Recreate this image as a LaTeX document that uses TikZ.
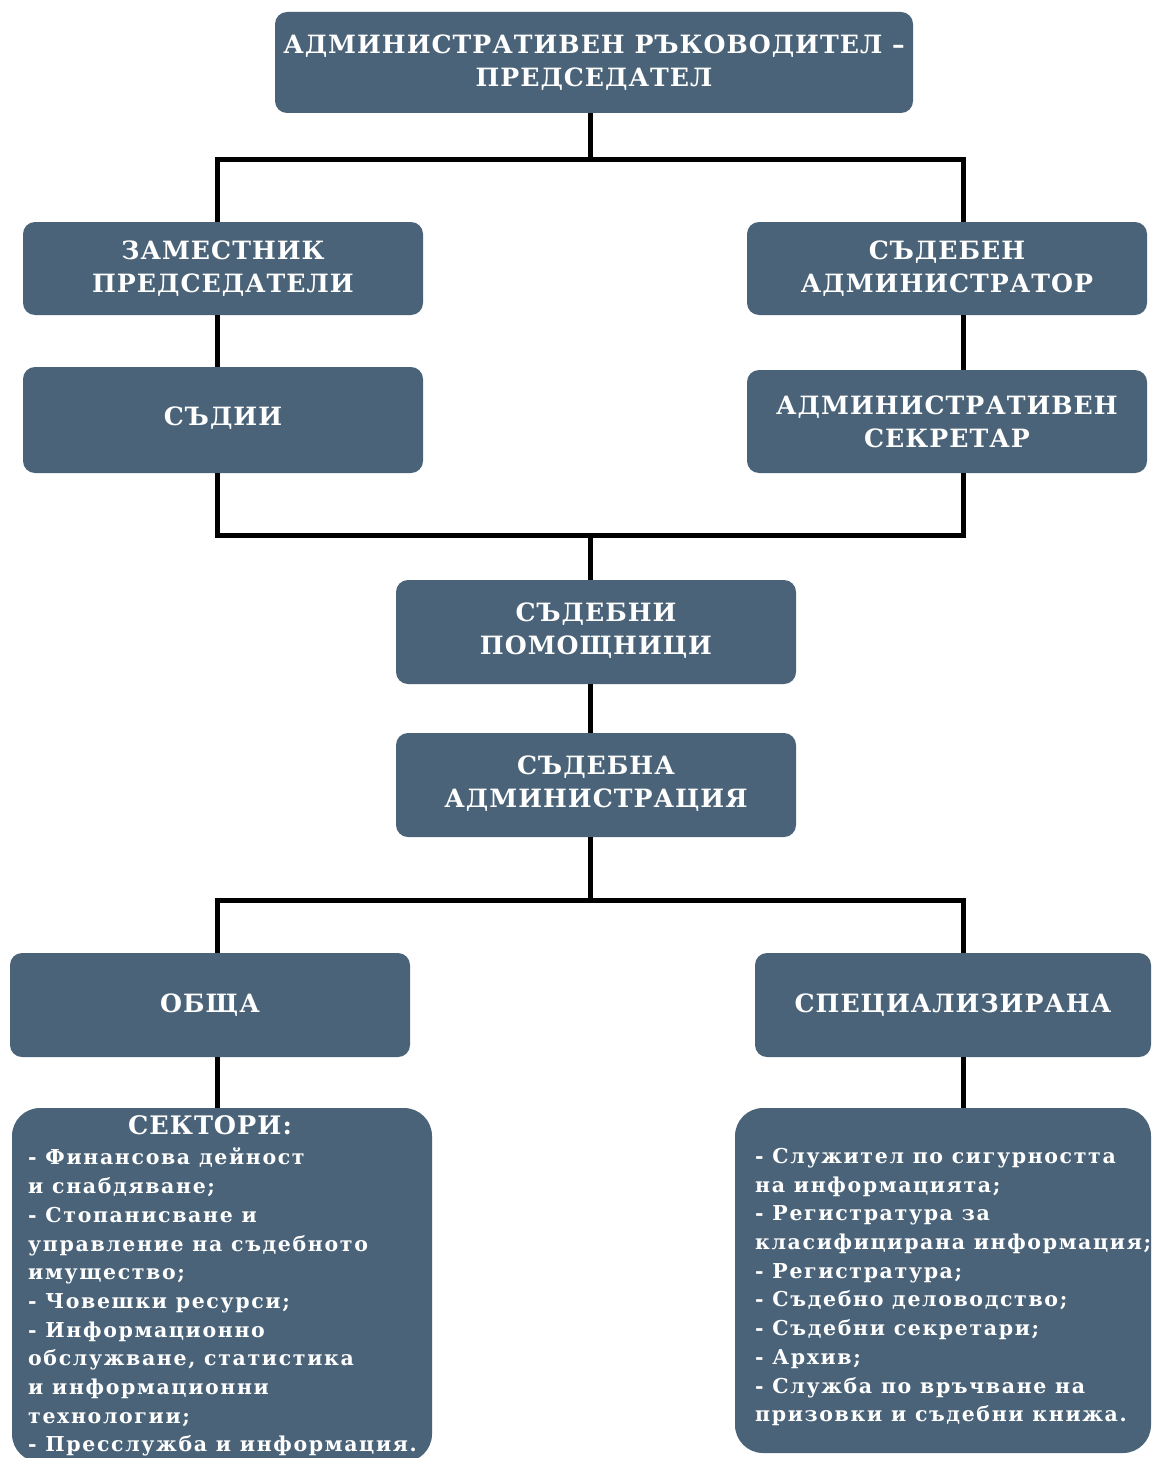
\documentclass[tikz,border=0pt]{standalone}
\usepackage{fontspec}
\setmainfont{DejaVu Serif}
\newfontfamily\tfont[LetterSpace=4]{DejaVu Serif}
\newfontfamily\bfont[LetterSpace=8]{DejaVu Serif}
\definecolor{slate}{HTML}{4A6378}
\begin{document}
\begin{tikzpicture}[x=1pt,y=-1pt,
  box/.style={fill=slate, rounded corners=12pt, text=white,
    font=\tfont\bfseries\fontsize{25.2}{33}\selectfont, align=center,
    inner sep=0pt, minimum width=400pt, minimum height=93pt},
  bigbox/.style={fill=slate, rounded corners=28pt, inner sep=0pt},
  conn/.style={line width=5pt, black},
  body/.style={text=white, font=\bfont\bfseries\fontsize{20.5}{28.7}\selectfont,
    align=left, anchor=north west, inner sep=0pt}]
\useasboundingbox (0,0) rectangle (1151,1458);
\clip (0,0) rectangle (1151,1458);
\fill[white] (0,0) rectangle (1151,1458);
% boxes
\node[box, minimum width=638pt, minimum height=101pt] (top) at (594,62.5)
  {АДМИНИСТРАТИВЕН РЪКОВОДИТЕЛ –\\ПРЕДСЕДАТЕЛ};
\node[box] (zam) at (223,268.5) {ЗАМЕСТНИК\\ПРЕДСЕДАТЕЛИ};
\node[box] (sadm) at (947,268.5) {СЪДЕБЕН\\АДМИНИСТРАТОР};
\node[box, minimum height=106pt, text depth=8pt] (sadii) at (223,420) {СЪДИИ};
\node[box, minimum height=103pt] (asek) at (947,421.5) {АДМИНИСТРАТИВЕН\\СЕКРЕТАР};
\node[box, minimum height=104pt, text depth=6pt] (pom) at (596,632) {СЪДЕБНИ\\ПОМОЩНИЦИ};
\node[box, minimum height=104pt, text depth=6pt] (sadmin) at (596,785) {СЪДЕБНА\\АДМИНИСТРАЦИЯ};
\node[box, minimum height=104pt] (obshta) at (210,1005) {ОБЩА};
\node[box, minimum width=396pt, minimum height=104pt] (spec) at (953,1005) {СПЕЦИАЛИЗИРАНА};
\node[bigbox, minimum width=420pt, minimum height=354pt] (sect) at (222,1285) {};
\node[bigbox, minimum width=416pt, minimum height=345pt] (specbox) at (943,1280.5) {};
% texts in the big boxes
\node[text=white, font=\tfont\bfseries\fontsize{25.5}{28}\selectfont, inner sep=0pt] (secttitle) at (210,1125) {СЕКТОРИ:};
\node[body] (secttext) at (28,1148) {- Финансова дейност\\и снабдяване;\\- Стопанисване и\\управление на съдебното\\имущество;\\- Човешки ресурси;\\- Информационно\\обслужване, статистика\\и информационни\\технологии;\\- Пресслужба и информация.};
\node[body] (spectext) at (755,1148) {- Служител по сигурността\\на информацията;\\- Регистратура за\\класифицирана информация;\\- Регистратура;\\- Съдебно деловодство;\\- Съдебни секретари;\\- Архив;\\- Служба по връчване на\\призовки и съдебни книжа.};
% connectors
\coordinate (cL) at (217,0);
\coordinate (cR) at (963,0);
\coordinate (cM) at (590,0);
\coordinate (j1) at (590,160);
\coordinate (j2) at (590,535);
\coordinate (j3) at (590,900);
\draw[conn] (top.south -| cM) -- (j1);
\draw[conn] (zam.north -| cL) |- (j1) -| (sadm.north -| cR);
\draw[conn] (zam.south -| cL) -- (sadii.north -| cL);
\draw[conn] (sadm.south -| cR) -- (asek.north -| cR);
\draw[conn] (sadii.south -| cL) |- (j2) -| (asek.south -| cR);
\draw[conn] (j2) -- (pom.north -| cM);
\draw[conn] (pom.south -| cM) -- (sadmin.north -| cM);
\draw[conn] (sadmin.south -| cM) -- (j3);
\draw[conn] (obshta.north -| cL) |- (j3) -| (spec.north -| cR);
\draw[conn] (obshta.south -| cL) -- (sect.north -| cL);
\draw[conn] (spec.south -| cR) -- (specbox.north -| cR);
\end{tikzpicture}
\end{document}
